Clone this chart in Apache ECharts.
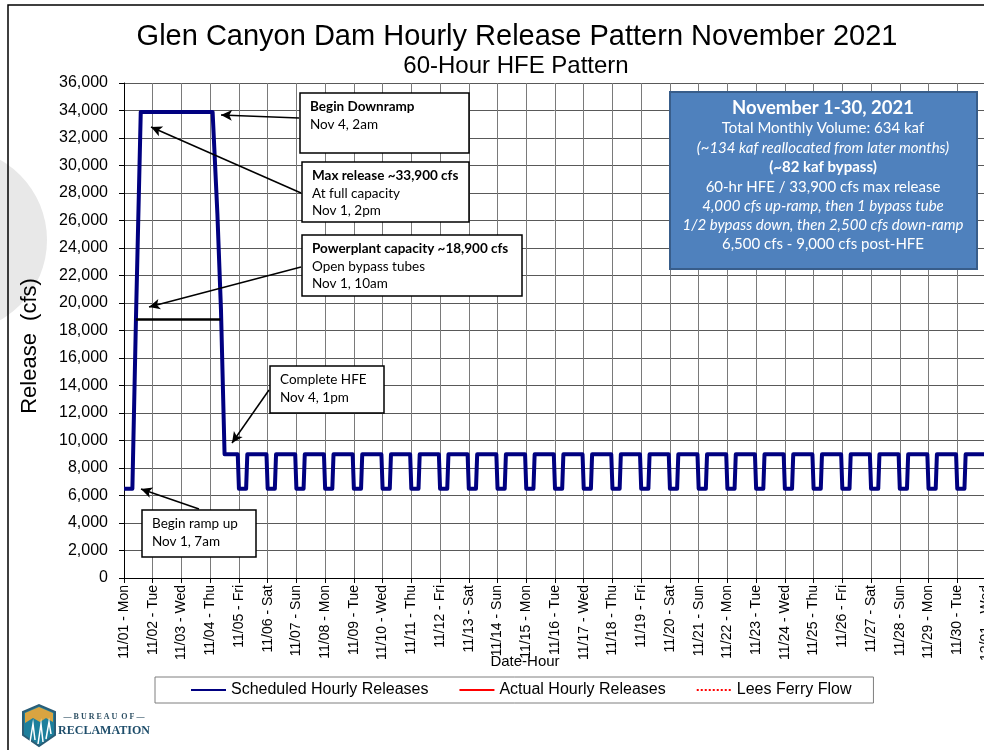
<!DOCTYPE html>
<html>
<head>
<meta charset="utf-8">
<title>Glen Canyon Dam Hourly Release Pattern November 2021</title>
<script src="https://cdn.jsdelivr.net/npm/echarts@6/dist/echarts.min.js"></script>
<style>
html, body { margin: 0; padding: 0; background: #fff; }
#echarts { width: 984px; height: 750px; }
</style>
</head>
<body>
<div id="echarts"></div>
<script>
// one label per day, placed at midnight (hour of month = 24 * index)
var dayLabels = ['11/01 - Mon', '11/02 - Tue', '11/03 - Wed', '11/04 - Thu', '11/05 - Fri', '11/06 - Sat',
    '11/07 - Sun', '11/08 - Mon', '11/09 - Tue', '11/10 - Wed', '11/11 - Thu', '11/12 - Fri', '11/13 - Sat',
    '11/14 - Sun', '11/15 - Mon', '11/16 - Tue', '11/17 - Wed', '11/18 - Thu', '11/19 - Fri', '11/20 - Sat',
    '11/21 - Sun', '11/22 - Mon', '11/23 - Tue', '11/24 - Wed', '11/25 - Thu', '11/26 - Fri', '11/27 - Sat',
    '11/28 - Sun', '11/29 - Mon', '11/30 - Tue', '12/01 - Wed'];

// HFE: ramp up Nov 1 7am, max 2pm, downramp Nov 4 2am, complete ~1pm
var hfeHours = [0, 7, 10, 14, 74, 78, 81, 84];
var hfeCfs = [6500, 6500, 18900, 33900, 33900, 26500, 19500, 9000];

// post-HFE daily fluctuation, Nov 5 - Nov 30 (hour of month)
var fluctHours = [
    95, 96, 102, 103,   119, 120, 126, 127,   143, 144, 150, 151,   167, 168, 174, 175,
    191, 192, 198, 199,   215, 216, 222, 223,   239, 240, 246, 247,   263, 264, 270, 271,
    287, 288, 294, 295,   311, 312, 318, 319,   335, 336, 342, 343,   359, 360, 366, 367,
    383, 384, 390, 391,   407, 408, 414, 415,   431, 432, 438, 439,   455, 456, 462, 463,
    479, 480, 486, 487,   503, 504, 510, 511,   527, 528, 534, 535,   551, 552, 558, 559,
    575, 576, 582, 583,   599, 600, 606, 607,   623, 624, 630, 631,   647, 648, 654, 655,
    671, 672, 678, 679,   695, 696, 702, 703,   720];
var fluctCfs = [
    9000, 6500, 6500, 9000,   9000, 6500, 6500, 9000,   9000, 6500, 6500, 9000,   9000, 6500, 6500, 9000,
    9000, 6500, 6500, 9000,   9000, 6500, 6500, 9000,   9000, 6500, 6500, 9000,   9000, 6500, 6500, 9000,
    9000, 6500, 6500, 9000,   9000, 6500, 6500, 9000,   9000, 6500, 6500, 9000,   9000, 6500, 6500, 9000,
    9000, 6500, 6500, 9000,   9000, 6500, 6500, 9000,   9000, 6500, 6500, 9000,   9000, 6500, 6500, 9000,
    9000, 6500, 6500, 9000,   9000, 6500, 6500, 9000,   9000, 6500, 6500, 9000,   9000, 6500, 6500, 9000,
    9000, 6500, 6500, 9000,   9000, 6500, 6500, 9000,   9000, 6500, 6500, 9000,   9000, 6500, 6500, 9000,
    9000, 6500, 6500, 9000,   9000, 6500, 6500, 9000,   9000];

// powerplant capacity bar (cfs, from hour, to hour)
var capacityCfs = 18800;
var capacityHours = [10, 80.5];

var legendNames = ['Scheduled Hourly Releases', 'Actual Hourly Releases', 'Lees Ferry Flow'];

var infoLines = [
    'November 1-30, 2021',
    'Total Monthly Volume: 634 kaf',
    '(~134 kaf reallocated from later months)',
    '(~82 kaf bypass)',
    '60-hr HFE / 33,900 cfs max release',
    '4,000 cfs up-ramp, then 1 bypass tube',
    '1/2 bypass down, then 2,500 cfs down-ramp',
    '6,500 cfs - 9,000 cfs post-HFE'
];
var infoStyles = ['title', 'normal', 'italic', 'bold', 'normal', 'italic', 'italic', 'normal'];

window.onload = function () {
    var ARIAL = "'Liberation Sans', Arial, sans-serif";
    var CAL = "Lato, 'Open Sans', sans-serif";

    var scheduled = [];
    hfeHours.forEach(function (h, i) { scheduled.push([h, hfeCfs[i]]); });
    fluctHours.forEach(function (h, i) { scheduled.push([h, fluctCfs[i]]); });

    // annotation boxes
    var notes = [
        { box: [300, 93, 169, 60], lines: ['Begin Downramp', 'Nov 4, 2am'], arrow: [[299, 118], [221, 115]] },
        { box: [302, 162, 167, 60], lines: ['Max release ~33,900 cfs', 'At full capacity', 'Nov 1, 2pm'], arrow: [[301, 193], [151, 127]] },
        { box: [302, 235, 220, 61], lines: ['Powerplant capacity ~18,900 cfs', 'Open bypass tubes', 'Nov 1, 10am'], arrow: [[301, 267], [149, 307]] },
        { box: [270, 366, 114, 47], lines: ['Complete HFE', 'Nov 4, 1pm'], bold: false, arrow: [[269, 390], [232, 443]] },
        { box: [142, 510, 114, 47], lines: ['Begin ramp up', 'Nov 1, 7am'], bold: false, arrow: [[199, 509], [141, 489]] }
    ];

    var graphics = [];
    // background sweep
    graphics.push({ type: 'circle', z: -5, shape: { cx: -45, cy: 240, r: 92 }, style: { fill: '#e8e8e8' } });
    // outer frame
    graphics.push({ type: 'rect', z: 1, shape: { x: 8, y: 5, width: 1000, height: 800 }, style: { fill: 'none', stroke: '#000', lineWidth: 1.5 } });

    var arrowLines = [];
    notes.forEach(function (n) {
        graphics.push({ type: 'rect', z: 50, shape: { x: n.box[0], y: n.box[1], width: n.box[2], height: n.box[3] },
            style: { fill: '#fff', stroke: '#000', lineWidth: 1.5 } });
        var txt = n.lines.map(function (l, i) { return (i === 0 && n.bold !== false) ? '{b|' + l + '}' : '{n|' + l + '}'; }).join('\n');
        graphics.push({ type: 'text', z: 51, x: n.box[0] + 10, y: n.box[1] + 5,
            style: { text: txt, align: 'left', verticalAlign: 'top', fill: '#000',
                rich: {
                    b: { fontFamily: CAL, fontSize: 13.5, fontWeight: 'bold', lineHeight: 17.5, fill: '#000' },
                    n: { fontFamily: CAL, fontSize: 13.5, lineHeight: 17.5, fill: '#000' }
                } } });
        arrowLines.push([{ x: n.arrow[0][0], y: n.arrow[0][1] }, { x: n.arrow[1][0], y: n.arrow[1][1] }]);
    });

    // info box
    graphics.push({ type: 'rect', z: 50, shape: { x: 670, y: 92, width: 307, height: 177 },
        style: { fill: '#4f81bd', stroke: '#385d8a', lineWidth: 2 } });
    var infoY = [108, 128, 148, 167, 187, 206, 225, 244];
    infoLines.forEach(function (l, i) {
        var s = infoStyles[i];
        graphics.push({ type: 'text', z: 51, x: 823, y: infoY[i],
            style: { text: l, align: 'center', verticalAlign: 'middle', fill: '#fff', fontFamily: CAL,
                fontSize: s === 'title' ? 18.5 : 15,
                fontWeight: (s === 'title' || s === 'bold') ? 'bold' : 'normal',
                fontStyle: s === 'italic' ? 'italic' : 'normal' } });
    });

    // axis names
    graphics.push({ type: 'text', z: 10, x: 30, y: 346, rotation: Math.PI / 2,
        style: { text: 'Release  (cfs)', align: 'center', verticalAlign: 'middle', fontFamily: ARIAL, fontSize: 22, fill: '#000' } });
    graphics.push({ type: 'text', z: 10, x: 525, y: 662,
        style: { text: 'Date-Hour', align: 'center', verticalAlign: 'middle', fontFamily: ARIAL, fontSize: 15, fill: '#000' } });

    // logo
    graphics.push({ type: 'polygon', z: 10, shape: { points: [[23, 712], [39, 705], [55, 712], [55, 735], [39, 746], [23, 735]] },
        style: { fill: '#1d7f9c', stroke: '#2a5d77', lineWidth: 2 } });
    graphics.push({ type: 'polygon', z: 11, shape: { points: [[25, 713], [39, 707], [53, 713], [53, 722], [46, 718], [40, 722], [33, 718], [25, 723]] },
        style: { fill: '#d9a441' } });
    graphics.push({ type: 'polyline', z: 12, shape: { points: [[30, 742], [33, 724], [35, 740]] }, style: { stroke: '#fff', lineWidth: 1.5, fill: 'none' } });
    graphics.push({ type: 'polyline', z: 12, shape: { points: [[38, 744], [41, 724], [43, 742]] }, style: { stroke: '#fff', lineWidth: 1.5, fill: 'none' } });
    graphics.push({ type: 'polyline', z: 12, shape: { points: [[46, 739], [49, 722], [51, 734]] }, style: { stroke: '#fff', lineWidth: 1.5, fill: 'none' } });
    graphics.push({ type: 'text', z: 10, x: 104, y: 717,
        style: { text: '— B U R E A U  O F —', align: 'center', verticalAlign: 'middle', fontFamily: "'Liberation Serif', serif", fontSize: 8, fontWeight: 'bold', fill: '#2d4f63' } });
    graphics.push({ type: 'text', z: 10, x: 104, y: 731,
        style: { text: 'RECLAMATION', align: 'center', verticalAlign: 'middle', fontFamily: "'Liberation Serif', serif", fontSize: 12, fontWeight: 'bold', fill: '#1f4e6b' } });

    var markData = arrowLines.slice();
    markData.push([
        { coord: [capacityHours[0], capacityCfs], symbol: 'none', lineStyle: { color: '#000', width: 2.5, type: 'solid' } },
        { coord: [capacityHours[1], capacityCfs], symbol: 'none' }
    ]);

    var option = {
        backgroundColor: '#fff',
        animation: false,
        title: [
            { text: 'Glen Canyon Dam Hourly Release Pattern November 2021', left: 512, top: 17, textAlign: 'center',
                textStyle: { fontFamily: ARIAL, fontSize: 29, fontWeight: 'normal', color: '#000' } },
            { text: '60-Hour HFE Pattern', left: 511, top: 49, textAlign: 'center',
                textStyle: { fontFamily: ARIAL, fontSize: 24, fontWeight: 'normal', color: '#000' } }
        ],
        legend: {
            data: legendNames,
            left: 155, top: 677,
            padding: [5, 22, 5, 35],
            itemGap: 30, itemWidth: 35, itemHeight: 16,
            borderColor: '#7f7f7f', borderWidth: 1,
            itemStyle: { opacity: 0 },
            textStyle: { fontFamily: ARIAL, fontSize: 16, color: '#000' }
        },
        grid: { left: 124, top: 83, width: 862, height: 495, containLabel: false, outerBoundsMode: 'none' },
        xAxis: {
            type: 'value', min: 0, max: 720, interval: 24,
            axisLine: { lineStyle: { color: '#000', width: 1 } },
            axisTick: { show: true, length: 5, lineStyle: { color: '#000' } },
            axisLabel: {
                rotate: 90, margin: 7, fontFamily: ARIAL, fontSize: 14, color: '#000',
                showMinLabel: true, showMaxLabel: true,
                formatter: function (v) { return dayLabels[Math.round(v / 24)] || ''; }
            },
            splitLine: { show: true, lineStyle: { color: '#7a7a7a', width: 1 } }
        },
        yAxis: {
            type: 'value', min: 0, max: 36000, interval: 2000,
            axisLine: { show: true, lineStyle: { color: '#000', width: 1 } },
            axisTick: { show: true, length: 5, lineStyle: { color: '#000' } },
            axisLabel: {
                margin: 16, fontFamily: ARIAL, fontSize: 16, color: '#000',
                formatter: function (v) { return v.toLocaleString('en-US'); }
            },
            splitLine: { show: true, lineStyle: { color: '#595959', width: 1 } }
        },
        graphic: graphics,
        series: [
            {
                name: legendNames[0], type: 'line', data: scheduled, symbol: 'none', z: 5,
                lineStyle: { color: '#000080', width: 4, join: 'round' },
                itemStyle: { color: '#000080' },
                markLine: {
                    silent: true, z: 60,
                    symbol: ['none', 'arrow'], symbolSize: [8, 11],
                    label: { show: false },
                    lineStyle: { color: '#000', width: 1.5, type: 'solid' },
                    data: markData
                }
            },
            {
                name: legendNames[1], type: 'line', data: [], symbol: 'none',
                lineStyle: { color: '#ff0000', width: 2.5 }, itemStyle: { color: '#ff0000' }
            },
            {
                name: legendNames[2], type: 'line', data: [], symbol: 'none',
                lineStyle: { color: '#ff0000', width: 1.5, type: 'dotted' }, itemStyle: { color: '#ff0000' }
            }
        ]
    };

    var mychart = echarts.init(document.getElementById('echarts'));
    mychart.setOption(option);
};
</script>
</body>
</html>
